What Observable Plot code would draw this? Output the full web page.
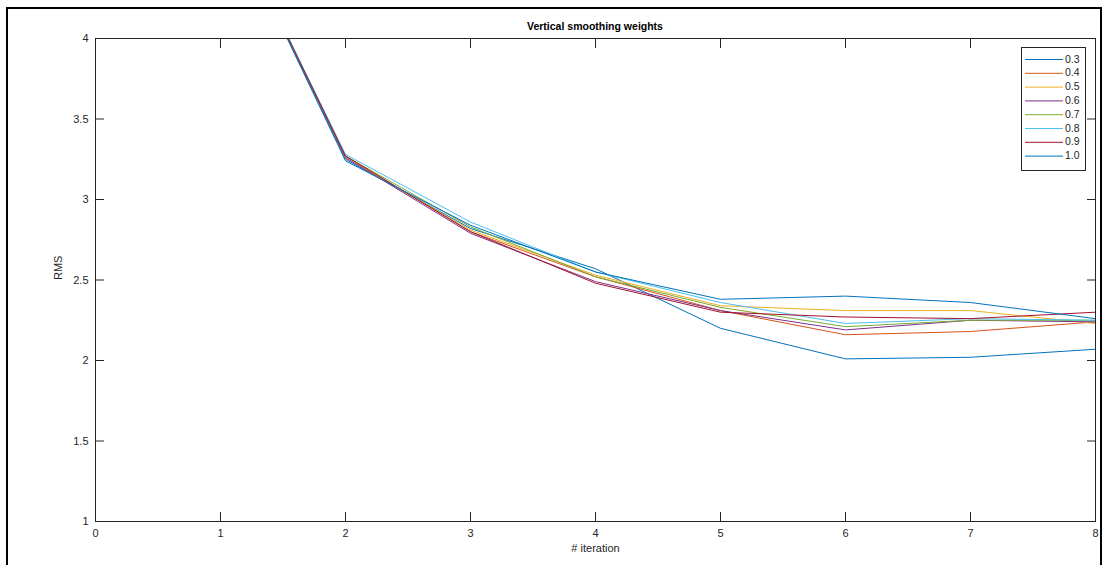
<!DOCTYPE html>
<html>
<head>
<meta charset="utf-8">
<script src="https://cdn.jsdelivr.net/npm/d3@7"></script>
<script src="https://cdn.jsdelivr.net/npm/@observablehq/plot@0.6"></script>
<style>
  html, body { margin: 0; padding: 0; background: #fff; }
  #wrap { position: relative; width: 1106px; height: 565px; overflow: hidden; font-family: "Liberation Sans", Arial, sans-serif; }
  #border { position: absolute; left: 6px; top: 7px; width: 1096px; height: 570px; border: 2px solid #000; box-sizing: border-box; }
  #title { position: absolute; left: 95px; width: 1000px; top: 20px; text-align: center; font-weight: bold; font-size: 10.5px; color: #000; }
  #chart { position: absolute; left: 0; top: 0; }
  #legend { position: absolute; left: 1021px; top: 47px; }
</style>
</head>
<body>
<div id="wrap">
  <div id="chart"></div>
  <div id="title">Vertical smoothing weights</div>
  <div id="legend"></div>
  <div id="border"></div>
</div>
<script>
const iterations = [1, 2, 3, 4, 5, 6, 7, 8];
const weights = ["0.3", "0.4", "0.5", "0.6", "0.7", "0.8", "0.9", "1.0"];
const rms_03 = [4.87, 3.25, 2.82, 2.57, 2.20, 2.01, 2.02, 2.07];
const rms_04 = [4.87, 3.27, 2.80, 2.52, 2.31, 2.16, 2.18, 2.24];
const rms_05 = [4.87, 3.26, 2.81, 2.53, 2.34, 2.31, 2.31, 2.23];
const rms_06 = [4.87, 3.26, 2.79, 2.49, 2.31, 2.19, 2.25, 2.24];
const rms_07 = [4.87, 3.27, 2.83, 2.52, 2.33, 2.21, 2.25, 2.25];
const rms_08 = [4.87, 3.28, 2.86, 2.55, 2.36, 2.23, 2.26, 2.25];
const rms_09 = [4.87, 3.27, 2.80, 2.48, 2.30, 2.27, 2.26, 2.30];
const rms_10 = [4.87, 3.24, 2.84, 2.55, 2.38, 2.40, 2.36, 2.26];
const colors = ["#0072BD", "#D95319", "#EDB120", "#7E2F8E", "#77AC30", "#4DBEEE", "#A2142F", "#0072BD"];
const xTicks = [0, 1, 2, 3, 4, 5, 6, 7, 8];
const yTicks = [1, 1.5, 2, 2.5, 3, 3.5, 4];

const seriesValues = [rms_03, rms_04, rms_05, rms_06, rms_07, rms_08, rms_09, rms_10];
const data = [];
weights.forEach((w, i) => {
  seriesValues[i].forEach((v, j) => data.push({iteration: iterations[j], rms: v, weight: w}));
});

const axisColor = "#262626";
const plot = Plot.plot({
  width: 1106,
  height: 565,
  marginLeft: 95,
  marginRight: 11,
  marginTop: 38,
  marginBottom: 44,
  style: {fontFamily: "'Liberation Sans', Arial, sans-serif", fontSize: "11px", color: axisColor, background: "transparent"},
  x: {domain: [0, 8]},
  y: {domain: [1, 4]},
  color: {domain: weights, range: colors},
  marks: [
    Plot.line(data, {x: "iteration", y: "rms", z: "weight", stroke: "weight", strokeWidth: 1, clip: true}),
    Plot.frame({stroke: axisColor, strokeWidth: 1}),
    Plot.axisX(xTicks, {anchor: "bottom", tickSize: -9, tickPadding: 17, label: null, tickFormat: d => String(d), stroke: axisColor, fill: axisColor}),
    Plot.axisX(xTicks, {anchor: "top", tickSize: -9, tickFormat: () => "", label: null, stroke: axisColor}),
    Plot.axisY(yTicks, {anchor: "left", tickSize: -9, tickPadding: 16, label: null, tickFormat: d => String(d), stroke: axisColor, fill: axisColor}),
    Plot.axisY(yTicks, {anchor: "right", tickSize: -9, tickFormat: () => "", label: null, stroke: axisColor}),
    Plot.text(["# iteration"], {frameAnchor: "bottom", dy: 30, text: d => d, fill: axisColor, fontSize: 11}),
    Plot.text(["RMS"], {frameAnchor: "left", dx: -37, rotate: -90, text: d => d, fill: axisColor, fontSize: 11})
  ]
});
document.getElementById("chart").appendChild(plot);

// legend box
const lw = 65, lh = 124, rowH = 13.8;
const svg = d3.select("#legend").append("svg").attr("width", lw).attr("height", lh)
  .style("font-family", "'Liberation Sans', Arial, sans-serif");
svg.append("rect").attr("x", 0.5).attr("y", 0.5).attr("width", lw - 1).attr("height", lh - 1)
  .attr("fill", "#fff").attr("stroke", axisColor).attr("stroke-width", 1);
const rows = svg.selectAll("g").data(weights).join("g")
  .attr("transform", (d, i) => `translate(0,${12 + i * rowH})`);
rows.append("line").attr("x1", 4).attr("x2", 42).attr("y1", 0.5).attr("y2", 0.5)
  .attr("stroke", (d, i) => colors[i]).attr("stroke-width", 1);
rows.append("text").attr("x", 44).attr("y", 0).attr("dy", "0.35em")
  .attr("font-size", 10.5).attr("fill", axisColor).text(d => d);
</script>
</body>
</html>
